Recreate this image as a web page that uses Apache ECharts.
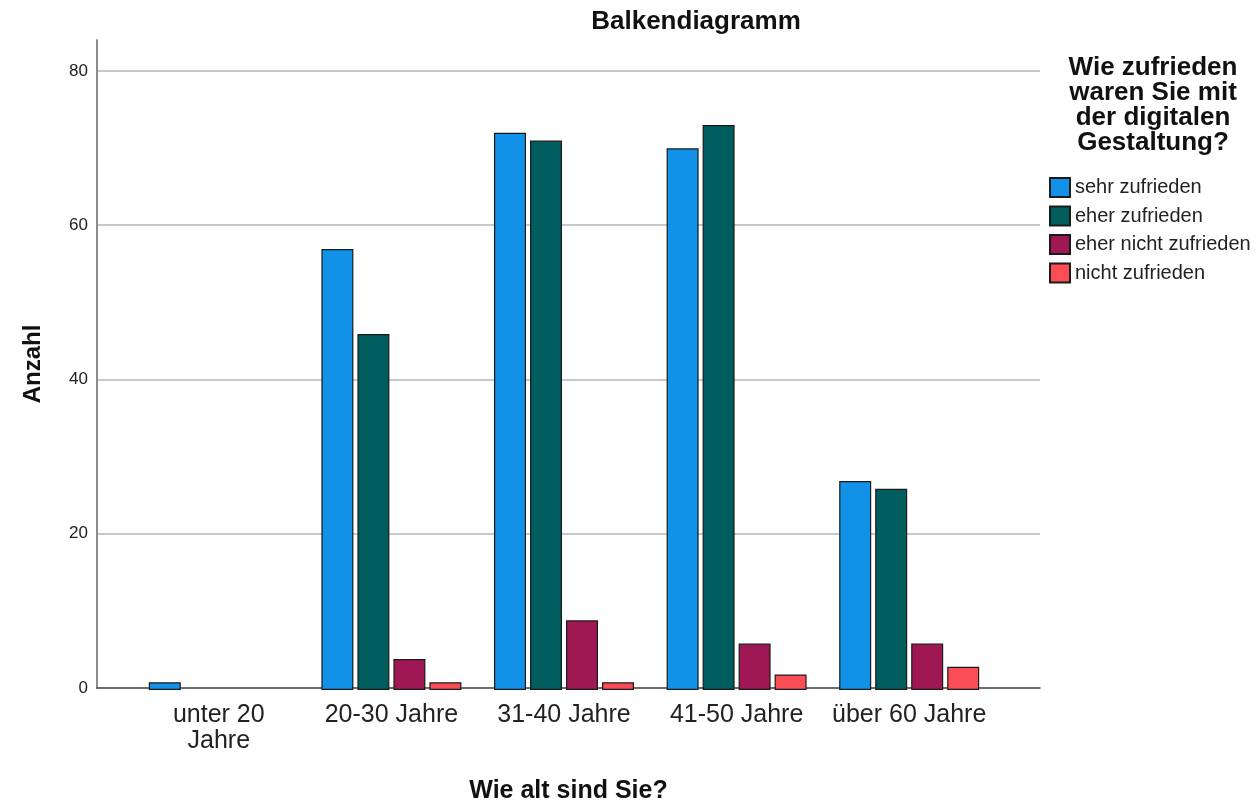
<!DOCTYPE html>
<html>
<head>
<meta charset="utf-8">
<script src="https://cdn.jsdelivr.net/npm/echarts@6/dist/echarts.min.js"></script>
<style>html,body{margin:0;padding:0;background:#fff;}#c{width:1260px;height:809px;}</style>
</head>
<body>
<div id="c"></div>
<script>
const categories = ['unter 20 Jahre', '20-30 Jahre', '31-40 Jahre', '41-50 Jahre', 'über 60 Jahre'];
const seriesNames = ['sehr zufrieden', 'eher zufrieden', 'eher nicht zufrieden', 'nicht zufrieden'];
const sehrZufrieden = [1, 57, 72, 70, 27];
const eherZufrieden = [0, 46, 71, 73, 26];
const eherNichtZufrieden = [0, 4, 9, 6, 6];
const nichtZufrieden = [0, 1, 1, 2, 3];
const colors = ['#1192e8', '#005d5d', '#9f1853', '#fa4d56'];
const seriesValues = [sehrZufrieden, eherZufrieden, eherNichtZufrieden, nichtZufrieden];

const FONT = "'Liberation Sans', Arial, sans-serif";
const chart = echarts.init(document.getElementById('c'), null, {renderer: 'canvas'});

const option = {
  backgroundColor: '#ffffff',
  animation: false,
  textStyle: {fontFamily: FONT},
  title: [
    {
      text: 'Balkendiagramm',
      left: 691, top: 4, textAlign: 'center',
      textStyle: {fontFamily: FONT, fontSize: 26, fontWeight: 'bold', color: '#111'}
    },
    {
      text: 'Wie zufrieden\nwaren Sie mit\nder digitalen\nGestaltung?',
      left: 1148, top: 50, textAlign: 'center',
      textStyle: {fontFamily: FONT, fontSize: 26, fontWeight: 'bold', color: '#111', lineHeight: 25}
    }
  ],
  legend: {
    orient: 'vertical',
    left: 1044, top: 172,
    itemWidth: 20, itemHeight: 19, itemGap: 7.5,
    icon: 'rect',
    data: seriesNames,
    textStyle: {fontFamily: FONT, fontSize: 20, lineHeight: 20, color: '#222'}
  },
  grid: [
    {left: 97, right: 220, top: 40, bottom: 119},
    {left: 132.5, width: 863, top: 40, bottom: 119}
  ],
  xAxis: [
    {
      gridIndex: 0, type: 'category', data: [''],
      axisLine: {show: true, lineStyle: {color: '#4d4d4d', width: 1.5}},
      axisTick: {show: false}, axisLabel: {show: false},
      name: 'Wie alt sind Sie?', nameLocation: 'middle', nameGap: 91,
      nameTextStyle: {fontFamily: FONT, fontSize: 25, fontWeight: 'bold', color: '#111'}
    },
    {
      gridIndex: 1, type: 'category', data: categories,
      axisLine: {show: false}, axisTick: {show: false},
      axisLabel: {
        fontFamily: FONT, fontSize: 25, color: '#222', margin: 12,
        lineHeight: 26, interval: 0,
        formatter: v => (v === categories[0] ? v.replace(' Jahre', '\nJahre') : v)
      }
    }
  ],
  yAxis: [
    {
      gridIndex: 0, type: 'value', min: 0, max: 84, interval: 20,
      axisLine: {show: true, lineStyle: {color: '#8c8c8c', width: 2}},
      axisTick: {show: false},
      axisLabel: {fontFamily: FONT, fontSize: 17, color: '#222', margin: 9, showMaxLabel: false,
        formatter: v => (v % 20 === 0 ? String(v) : '')},
      splitLine: {show: true, showMaxLine: false, lineStyle: {color: '#c8c8c8', width: 2}},
      name: 'Anzahl', nameLocation: 'middle', nameGap: 52, nameRotate: 90,
      nameTextStyle: {fontFamily: FONT, fontSize: 24, fontWeight: 'bold', color: '#111'}
    },
    {
      gridIndex: 1, type: 'value', min: 0, max: 84, show: false,
      splitLine: {show: false}
    }
  ],
  series: seriesNames.map((name, i) => ({
    name: name,
    type: 'bar',
    xAxisIndex: 1, yAxisIndex: 1,
    data: seriesValues[i].map(v => (v === 0 ? {value: v, itemStyle: {borderWidth: 0, opacity: 0}} : v)),
    barWidth: 32,
    barGap: '12.5%',
    itemStyle: {color: colors[i], borderColor: '#1a1a1a', borderWidth: 1.2}
  }))
};
chart.setOption(option);
</script>
</body>
</html>
